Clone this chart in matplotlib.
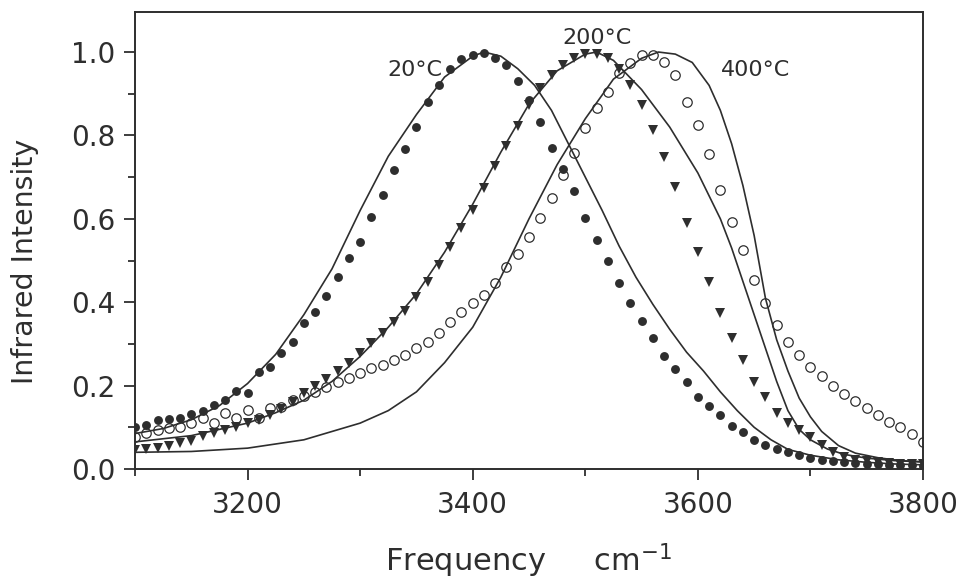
import matplotlib
matplotlib.use('Agg')
import matplotlib.pyplot as plt
from matplotlib.ticker import MultipleLocator

# measured points, one every 10 cm-1 from 3100 to 3800
freq = [3100, 3110, 3120, 3130, 3140, 3150, 3160, 3170, 3180, 3190,
        3200, 3210, 3220, 3230, 3240, 3250, 3260, 3270, 3280, 3290,
        3300, 3310, 3320, 3330, 3340, 3350, 3360, 3370, 3380, 3390,
        3400, 3410, 3420, 3430, 3440, 3450, 3460, 3470, 3480, 3490,
        3500, 3510, 3520, 3530, 3540, 3550, 3560, 3570, 3580, 3590,
        3600, 3610, 3620, 3630, 3640, 3650, 3660, 3670, 3680, 3690,
        3700, 3710, 3720, 3730, 3740, 3750, 3760, 3770, 3780, 3790, 3800]

exp_20 = [0.100, 0.105, 0.117, 0.120, 0.122, 0.132, 0.139, 0.153, 0.165, 0.187,
          0.182, 0.233, 0.245, 0.278, 0.305, 0.350, 0.376, 0.415, 0.460, 0.506,
          0.544, 0.604, 0.657, 0.717, 0.767, 0.820, 0.880, 0.921, 0.959, 0.983,
          0.993, 0.998, 0.986, 0.969, 0.930, 0.885, 0.832, 0.770, 0.720, 0.667,
          0.602, 0.550, 0.500, 0.446, 0.398, 0.355, 0.314, 0.271, 0.240, 0.209,
          0.173, 0.151, 0.129, 0.103, 0.089, 0.070, 0.058, 0.048, 0.040, 0.033,
          0.027, 0.022, 0.019, 0.016, 0.014, 0.012, 0.011, 0.010, 0.009, 0.009, 0.008]

exp_200 = [0.045, 0.047, 0.050, 0.056, 0.062, 0.068, 0.078, 0.087, 0.094, 0.100,
           0.110, 0.118, 0.130, 0.145, 0.160, 0.182, 0.200, 0.216, 0.235, 0.255,
           0.278, 0.302, 0.326, 0.352, 0.380, 0.413, 0.448, 0.490, 0.532, 0.578,
           0.621, 0.674, 0.727, 0.775, 0.823, 0.873, 0.914, 0.945, 0.969, 0.986,
           0.995, 0.995, 0.985, 0.960, 0.921, 0.873, 0.813, 0.748, 0.676, 0.590,
           0.520, 0.448, 0.374, 0.314, 0.261, 0.209, 0.173, 0.134, 0.110, 0.094,
           0.077, 0.058, 0.041, 0.029, 0.022, 0.018, 0.016, 0.014, 0.013, 0.012, 0.012]

exp_400 = [0.077, 0.086, 0.094, 0.098, 0.100, 0.110, 0.122, 0.110, 0.134, 0.122,
           0.141, 0.122, 0.146, 0.149, 0.165, 0.175, 0.185, 0.197, 0.209, 0.218,
           0.230, 0.242, 0.249, 0.261, 0.273, 0.290, 0.305, 0.326, 0.353, 0.376,
           0.398, 0.417, 0.445, 0.484, 0.515, 0.556, 0.602, 0.650, 0.705, 0.758,
           0.818, 0.866, 0.904, 0.950, 0.974, 0.993, 0.993, 0.976, 0.945, 0.880,
           0.825, 0.755, 0.669, 0.592, 0.525, 0.453, 0.398, 0.345, 0.305, 0.273,
           0.245, 0.222, 0.200, 0.180, 0.163, 0.147, 0.130, 0.113, 0.100, 0.085, 0.064]

# model curves (solid lines)
fit20_x = [3100, 3125, 3150, 3175, 3200, 3225, 3250, 3275, 3300, 3325, 3350, 3375,
           3400, 3410, 3425, 3440, 3455, 3470, 3485, 3500, 3515, 3530, 3545, 3560,
           3575, 3590, 3605, 3620, 3635, 3650, 3665, 3680, 3700, 3725, 3750, 3775, 3800]
fit20_y = [0.085, 0.097, 0.118, 0.152, 0.205, 0.275, 0.37, 0.48, 0.62, 0.75, 0.85, 0.94,
           0.99, 1.0, 0.99, 0.96, 0.92, 0.86, 0.78, 0.70, 0.62, 0.535, 0.46, 0.395,
           0.335, 0.28, 0.235, 0.185, 0.14, 0.10, 0.07, 0.047, 0.033, 0.022, 0.016, 0.012, 0.01]

fit200_x = [3100, 3150, 3200, 3225, 3250, 3275, 3300, 3325, 3350, 3375, 3400, 3425,
            3450, 3475, 3500, 3510, 3525, 3550, 3575, 3600, 3620, 3630, 3640, 3650,
            3660, 3670, 3680, 3690, 3700, 3715, 3730, 3750, 3775, 3800]
fit200_y = [0.065, 0.08, 0.11, 0.135, 0.165, 0.21, 0.27, 0.34, 0.42, 0.52, 0.635, 0.76,
            0.875, 0.955, 0.995, 1.0, 0.98, 0.91, 0.82, 0.71, 0.60, 0.53, 0.45, 0.37,
            0.29, 0.21, 0.14, 0.095, 0.07, 0.048, 0.035, 0.026, 0.02, 0.017]

fit400_x = [3100, 3150, 3200, 3250, 3275, 3300, 3325, 3350, 3375, 3400, 3425, 3450,
            3475, 3500, 3525, 3550, 3565, 3580, 3595, 3610, 3620, 3630, 3640, 3650,
            3660, 3670, 3680, 3690, 3700, 3710, 3725, 3740, 3760, 3780, 3800]
fit400_y = [0.04, 0.042, 0.05, 0.07, 0.09, 0.11, 0.14, 0.185, 0.255, 0.34, 0.46, 0.60,
            0.73, 0.84, 0.935, 0.985, 1.0, 0.995, 0.975, 0.92, 0.86, 0.78, 0.68, 0.56,
            0.41, 0.31, 0.235, 0.17, 0.125, 0.09, 0.056, 0.038, 0.027, 0.02, 0.017]

labels = ['20°C', '200°C', '400°C']
label_pos = [(3349, 0.957), (3510, 1.034), (3651, 0.957)]

ink = '#2e2e2e'

fig = plt.figure(figsize=(9.79, 5.8), dpi=100)
ax = fig.add_axes([0.1379, 0.1914, 0.8049, 0.7879])

ax.plot(fit20_x, fit20_y, color=ink, lw=1.2)
ax.plot(fit200_x, fit200_y, color=ink, lw=1.2)
ax.plot(fit400_x, fit400_y, color=ink, lw=1.2)

ax.plot(freq, exp_20, 'o', color=ink, ms=6.4, mew=0)
ax.plot(freq, exp_200, 'v', color=ink, ms=7.5, mew=0)
ax.plot(freq, exp_400, 'o', mfc='none', mec=ink, ms=6.8, mew=0.9)

for lab, (lx, ly) in zip(labels, label_pos):
    ax.text(lx, ly, lab, ha='center', va='center', fontsize=16, color=ink)

ax.set_xlim(3100, 3800)
ax.set_ylim(0, 1.096)
ax.xaxis.set_minor_locator(MultipleLocator(100))
ax.yaxis.set_minor_locator(MultipleLocator(0.1))
ax.set_xticks([3200, 3400, 3600, 3800])
ax.set_yticks([0.0, 0.2, 0.4, 0.6, 0.8, 1.0])
ax.set_yticklabels(['0.0', '0.2', '0.4', '0.6', '0.8', '1.0'])

ax.tick_params(which='major', direction='out', length=8, width=1.3, colors=ink,
               labelsize=20, pad=6)
ax.tick_params(axis='x', which='major', pad=8)
ax.tick_params(which='minor', direction='out', length=5, width=1.3, colors=ink)
for sp in ax.spines.values():
    sp.set_linewidth(1.4)
    sp.set_color(ink)

ax.set_xlabel('Frequency     cm$^{-1}$', fontsize=22, color=ink)
ax.xaxis.set_label_coords(0.5, -0.158)
ax.set_ylabel('Infrared Intensity', fontsize=20.5, color=ink)
ax.yaxis.set_label_coords(-0.122, 0.455)

fig.savefig('out.png', dpi=100)
